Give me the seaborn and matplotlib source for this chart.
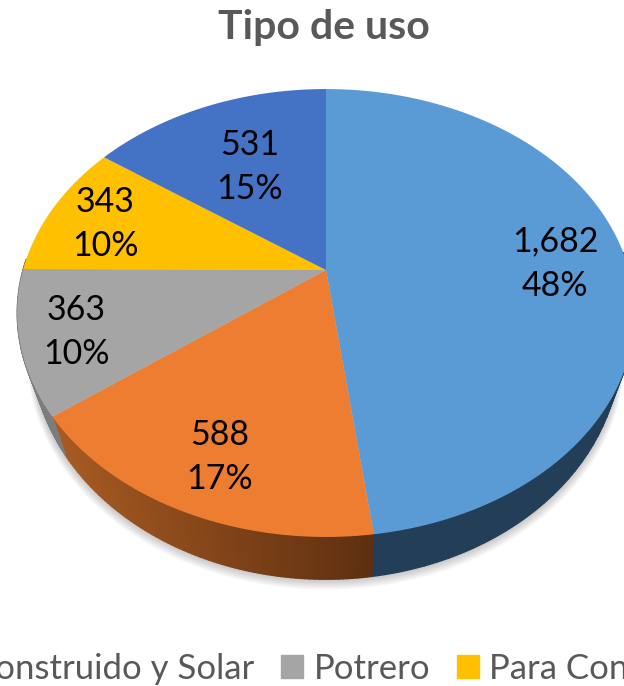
import numpy as np
import matplotlib
matplotlib.use("Agg")
import matplotlib.pyplot as plt
from matplotlib.colors import to_rgb
from matplotlib.patches import Patch
import seaborn as sns

sns.set_style("white")
plt.rcParams['font.family'] = ['Lato', 'DejaVu Sans']

# clockwise from 12 o'clock
values = [1682, 588, 363, 343, 531]
top_colors = ['#5B9BD5', '#ED7D31', '#A5A5A5', '#FFC000', '#4472C4']
side_left = ['#233E57', '#A85B22', '#7C7C7C', '#997300', '#2A4476']
side_right = ['#233E57', '#5E2F10', '#7C7C7C', '#997300', '#2A4476']
label_pos = [(555, 264), (220, 457), (76, 332), (105, 224), (250, 167)]

legend_labels = ['Construido y Solar', 'Potrero', 'Para Conservación']
legend_colors = ['#ED7D31', '#A5A5A5', '#FFC000']

# pie geometry in pixels, the tilt makes the apex sit above the ellipse centre
CX, CY = 326, 270
RX, RY, TILT = 303, 215.7, 0.192


def rim(theta):
    u, v = np.sin(theta), np.cos(theta)
    d = 1 + TILT * v
    return CX + RX * u / d, CY - RY * v / d


def lower(x, y):
    return CX + 0.9526 * (x - CX), 1.034 * y + 24


fig = plt.figure(figsize=(6.24, 6.86), dpi=100)
ax = fig.add_axes([0, 0, 1, 1])
ax.set_xlim(0, 624)
ax.set_ylim(686, 0)
ax.axis('off')

total = sum(values)
edges = np.concatenate([[0], np.cumsum(values)]) / total * 2 * np.pi

# soft shadow under the rim
t = np.linspace(0, 2 * np.pi, 400)
lx, ly = lower(*rim(t))
for k in range(8, 0, -1):
    ax.fill(CX + (lx - CX) * (1 + k * 0.0018), ly + k * 1.3,
            color='#555555', alpha=0.045, lw=0, zorder=1)

# side wall, short strips so the colour can run across each slice
for i in range(len(values)):
    th = np.linspace(edges[i], edges[i + 1], 80)
    left = np.array(to_rgb(side_left[i]))
    right = np.array(to_rgb(side_right[i]))
    for a, b in zip(th[:-1], th[1:]):
        if np.cos(a) > 0.05 and np.cos(b) > 0.05:
            continue  # back of the pie, hidden by the top face
        seg = np.linspace(a, b, 4)
        x1, y1 = rim(seg)
        x2, y2 = lower(x1, y1)
        f = np.clip((x1.mean() - 52) / (372 - 52), 0, 1)
        c = left + (right - left) * f
        ax.fill(np.r_[x1, x2[::-1]], np.r_[y1, y2[::-1]],
                facecolor=c, edgecolor=c, lw=1.0, zorder=2)

# top face
for i in range(len(values)):
    x, y = rim(np.linspace(edges[i], edges[i + 1], 200))
    ax.fill(np.r_[CX, x], np.r_[CY, y], color=top_colors[i], lw=0, zorder=3)

for v, (lx0, ly0) in zip(values, label_pos):
    ax.text(lx0, ly0, f"{v:,}\n{round(v / total * 100)}%", ha='center', va='center',
            fontsize=24.5, color='black', linespacing=1.48, zorder=4)

ax.text(324, 27, 'Tipo de uso', ha='center', va='center', fontsize=29.5,
        fontweight='bold', color='#595959')

handles = [Patch(color=c, label=l) for c, l in zip(legend_colors, legend_labels)]
ax.legend(handles=handles, ncol=3, loc='lower left', bbox_to_anchor=(-60.5, 685),
          bbox_transform=ax.transData, frameon=False, fontsize=25, labelcolor='#595959',
          handlelength=0.63, handleheight=0.63, handletextpad=0.3, columnspacing=0.78,
          borderpad=0, borderaxespad=0)

fig.savefig('out.png', dpi=100)
